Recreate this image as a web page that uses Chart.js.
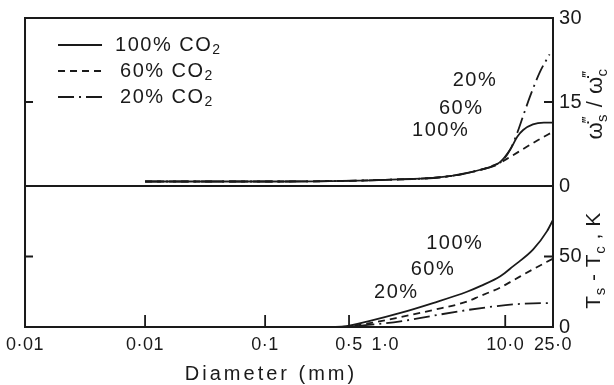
<!DOCTYPE html>
<html>
<head>
<meta charset="utf-8">
<title>Rate ratio and surface temperature rise vs particle diameter</title>
<script src="https://cdn.jsdelivr.net/npm/chart.js@4.4.1/dist/chart.umd.min.js"></script>
<style>
  html, body { margin: 0; padding: 0; background: #ffffff; }
  #wrap { width: 614px; height: 385px; }
</style>
</head>
<body>
<div id="wrap"><canvas id="chart" width="614" height="385"></canvas></div>
<script>
// ---- data: upper panel, reaction-rate ratio (surface / centre) ----
const rateX100 = [0.01, 0.1, 1, 3.3, 6.2, 9.1, 11, 12.6, 14.1, 17, 21, 25];
const rate100  = [0.8, 0.8, 1.1, 1.7, 2.9, 4.3, 6.5, 8.8, 10.0, 11.0, 11.3, 11.3];
const rateX60  = [0.01, 0.1, 1, 3.3, 6.2, 9.1, 11, 14.1, 18.8, 25];
const rate60   = [0.8, 0.8, 1.1, 1.7, 2.9, 4.2, 5.2, 6.6, 8.2, 9.7];
const rateX20  = [0.01, 0.1, 1, 3.3, 6.2, 9.1, 11, 12.6, 14.1, 16.1, 19.6, 23.4];
const rate20   = [0.8, 0.8, 1.1, 1.7, 2.9, 4.2, 6.5, 9.5, 12.5, 16.0, 20.5, 23.5];

// ---- data: lower panel, Ts - Tc (K) ----
const tempX100 = [0.35, 0.47, 0.72, 1.34, 2.5, 4.8, 6.2, 9.1, 11.6, 17.1, 22.3, 25];
const temp100  = [0, 0.5, 4, 10, 17, 25, 29, 36, 43, 55, 68, 76];
const tempX60  = [0.35, 0.47, 0.72, 1.34, 2.5, 4.8, 6.2, 9.1, 11.6, 17.1, 25];
const temp60   = [0, 0.3, 2.5, 7, 12, 18, 22, 28, 33, 41, 48.5];
const tempX20  = [0.35, 0.47, 0.72, 1.34, 2.5, 4.8, 7.9, 11.6, 17.1, 25];
const temp20   = [0, 0.2, 1.5, 4, 8, 12, 14.5, 16, 16.8, 17];

// ---- axes ----
const xTickValues = [0.001, 0.01, 0.1, 0.5, 1, 10, 25];
const xTickLabels = ['0·01', '0·01', '0·1', '0·5', '1·0', '10·0', '25·0'];
const xTickMarks  = [0.01, 0.1, 0.5, 10];
const rateTicks   = [0, 15, 30];
const tempTicks   = [0, 50];

const seriesNames = ['100% CO', '60% CO', '20% CO'];
const curveTags   = ['100%', '60%', '20%'];

const INK = '#1a1a1a';
const FONT = "'Liberation Sans', sans-serif";
const DASH = { solid: [], dashed: [7, 5], dashDot: [16, 5, 2, 5] };

// where the in-plot percentage tags sit (data coordinates)
const rateTagPos = [{ x: 2.9, y: 10 }, { x: 4.3, y: 13.9 }, { x: 5.6, y: 18.9 }];
const tempTagPos = [{ x: 3.8, y: 59 }, { x: 2.5, y: 41 }, { x: 1.24, y: 24.5 }];

const pts = (xs, ys) => xs.map((x, i) => ({ x, y: ys[i] }));

function line(label, data, axis, dash) {
  return {
    label, data, yAxisID: axis,
    borderColor: INK, borderWidth: 1.8, borderDash: dash,
    pointRadius: 0, fill: false, cubicInterpolationMode: 'monotone'
  };
}

// text made of runs so sub/superscripts can be set
function drawRuns(ctx, runs, x, y, rotate) {
  ctx.save();
  ctx.translate(x, y);
  if (rotate) ctx.rotate(-Math.PI / 2);
  ctx.textAlign = 'left';
  ctx.textBaseline = 'alphabetic';
  let total = 0;
  runs.forEach(r => {
    ctx.font = `${r.size}px ${FONT}`;
    if (!r.keep) total += ctx.measureText(r.t).width;
  });
  let cx = -total / 2;
  runs.forEach(r => {
    ctx.font = `${r.size}px ${FONT}`;
    ctx.fillText(r.t, cx, r.dy || 0);
    if (!r.keep) cx += ctx.measureText(r.t).width;
  });
  ctx.restore();
}

const panelDecor = {
  id: 'panelDecor',
  beforeDraw(chart) {
    chart.ctx.letterSpacing = '0.5px';
  },
  afterDraw(chart) {
    const { ctx, chartArea: area, scales } = chart;
    const { x, yRate, yTemp } = scales;
    ctx.save();
    ctx.setLineDash([]);
    ctx.strokeStyle = INK;
    ctx.fillStyle = INK;

    // panel frames
    ctx.lineWidth = 2;
    [yRate, yTemp].forEach(s => ctx.strokeRect(area.left, s.top, area.right - area.left, s.bottom - s.top));

    // inward tick marks
    ctx.lineWidth = 1.8;
    ctx.beginPath();
    xTickMarks.forEach(v => {
      const px = x.getPixelForValue(v);
      ctx.moveTo(px, area.bottom);
      ctx.lineTo(px, area.bottom - 12);
    });
    [[yRate, 15], [yTemp, 50]].forEach(([s, v]) => {
      const py = s.getPixelForValue(v);
      ctx.moveTo(area.left, py); ctx.lineTo(area.left + 8, py);
      ctx.moveTo(area.right - 9, py); ctx.lineTo(area.right, py);
    });
    ctx.stroke();

    // legend
    ctx.letterSpacing = '1.5px';
    seriesNames.forEach((name, i) => {
      const ds = chart.data.datasets[i];
      const ly = yRate.top + 27 + i * 26;
      ctx.setLineDash(ds.borderDash);
      ctx.lineWidth = 1.8;
      ctx.beginPath();
      ctx.moveTo(area.left + 33, ly);
      ctx.lineTo(area.left + 77, ly);
      ctx.stroke();
      ctx.setLineDash([]);
      ctx.font = `20px ${FONT}`;
      ctx.textBaseline = 'middle';
      ctx.textAlign = 'left';
      const tx = area.left + 90 + (i ? 5 : 0);
      ctx.fillText(name, tx, ly);
      const w = ctx.measureText(name).width;
      ctx.font = `14px ${FONT}`;
      ctx.fillText('2', tx + w, ly + 5);
    });

    // curve tags
    ctx.font = `20px ${FONT}`;
    ctx.textAlign = 'center';
    ctx.textBaseline = 'middle';
    curveTags.forEach((t, i) => {
      ctx.fillText(t, x.getPixelForValue(rateTagPos[i].x), yRate.getPixelForValue(rateTagPos[i].y));
      ctx.fillText(t, x.getPixelForValue(tempTagPos[i].x), yTemp.getPixelForValue(tempTagPos[i].y));
    });

    // axis titles
    ctx.letterSpacing = '3px';
    ctx.font = `20px ${FONT}`;
    ctx.fillText('Diameter (mm)', area.left + 246, area.bottom + 47);

    ctx.letterSpacing = '0.5px';
    drawRuns(ctx, [
      { t: 'ω̇', size: 22 }, { t: '‴', size: 15, dy: -10, keep: true }, { t: 's', size: 15, dy: 5 },
      { t: ' / ', size: 22 },
      { t: 'ω̇', size: 22 }, { t: '‴', size: 15, dy: -10, keep: true }, { t: 'c', size: 15, dy: 5 }
    ], 602, (yRate.top + yRate.bottom) / 2 + 2, true);
    drawRuns(ctx, [
      { t: 'T', size: 21 }, { t: 's', size: 15, dy: 5 }, { t: ' - ', size: 21 },
      { t: 'T', size: 21 }, { t: 'c', size: 15, dy: 5 }, { t: ' , K', size: 21 }
    ], 600, yTemp.getPixelForValue(50) + 4, true);

    ctx.restore();
  }
};

const tickFont = { family: FONT, size: 20 };

new Chart(document.getElementById('chart'), {
  type: 'line',
  data: {
    datasets: [
      line('100% CO₂', pts(rateX100, rate100), 'yRate', DASH.solid),
      line('60% CO₂', pts(rateX60, rate60), 'yRate', DASH.dashed),
      line('20% CO₂', pts(rateX20, rate20), 'yRate', DASH.dashDot),
      line('100%', pts(tempX100, temp100), 'yTemp', DASH.solid),
      line('60%', pts(tempX60, temp60), 'yTemp', DASH.dashed),
      line('20%', pts(tempX20, temp20), 'yTemp', DASH.dashDot)
    ]
  },
  options: {
    responsive: false,
    animation: false,
    layout: { padding: { left: 25, top: 18, right: 0, bottom: 0 } },
    plugins: { legend: { display: false }, tooltip: { enabled: false } },
    scales: {
      x: {
        type: 'logarithmic', min: 0.001, max: 25,
        grid: { display: false, drawTicks: false }, border: { display: false },
        afterBuildTicks: s => { s.ticks = xTickValues.map(v => ({ value: v })); },
        afterFit: s => { s.height = 58; },
        ticks: {
          autoSkip: false, maxRotation: 0, padding: 7, color: INK,
          font: { family: FONT, size: 18 },
          callback: (v, i) => xTickLabels[i]
        }
      },
      yRate: {
        type: 'linear', position: 'right', stack: 'panels', stackWeight: 168,
        min: 0, max: 30,
        grid: { display: false, drawTicks: false }, border: { display: false },
        afterBuildTicks: s => { s.ticks = rateTicks.map(v => ({ value: v })); },
        afterFit: s => { s.width = 61; },
        ticks: { padding: 6, color: INK, font: tickFont }
      },
      yTemp: {
        type: 'linear', position: 'right', stack: 'panels', stackWeight: 141,
        min: 0, max: 100,
        grid: { display: false, drawTicks: false }, border: { display: false },
        afterBuildTicks: s => { s.ticks = tempTicks.map(v => ({ value: v })); },
        afterFit: s => { s.width = 61; },
        ticks: { padding: 6, color: INK, font: tickFont }
      }
    }
  },
  plugins: [panelDecor]
});
</script>
</body>
</html>
